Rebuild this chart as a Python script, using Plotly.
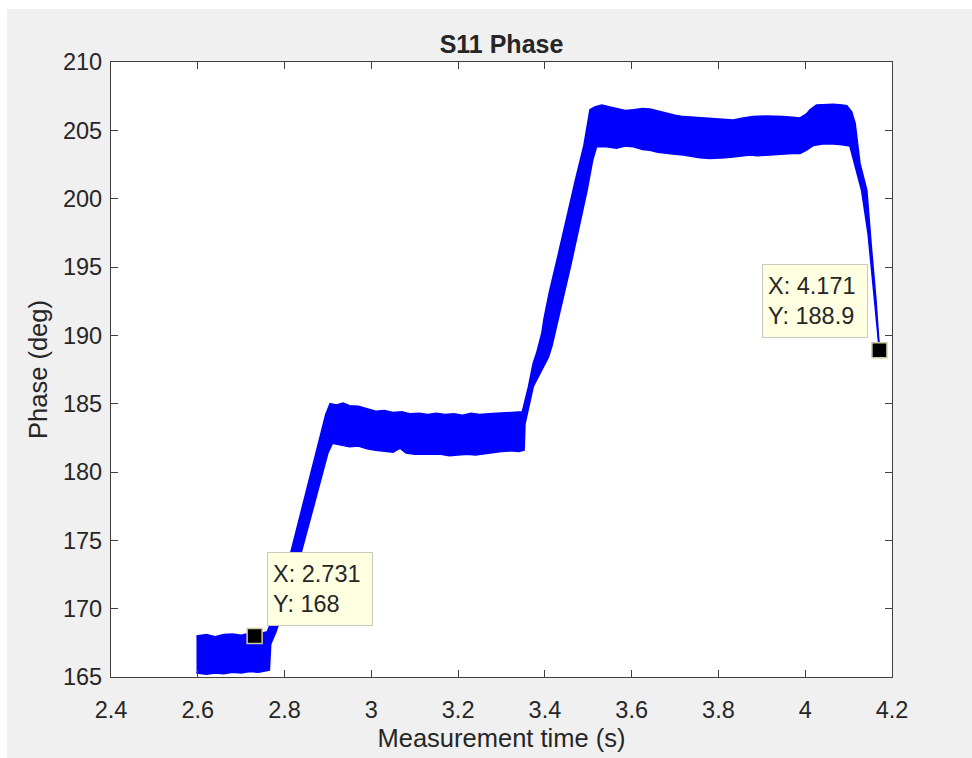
import plotly.graph_objects as go

# ---- measured S11 phase: upper and lower edges of the noisy trace ----
upper_t = [2.597, 2.62, 2.64, 2.66, 2.68, 2.70, 2.72, 2.74, 2.76,
           2.78, 2.80, 2.82, 2.84, 2.86, 2.88, 2.895, 2.905,
           2.92, 2.935, 2.95, 2.97, 2.99, 3.01, 3.03, 3.05, 3.07, 3.09, 3.11,
           3.13, 3.15, 3.17, 3.19, 3.21, 3.23, 3.25, 3.27, 3.29, 3.31, 3.33, 3.348,
           3.362, 3.373, 3.381, 3.393, 3.398, 3.41, 3.43, 3.45, 3.47, 3.49, 3.504,
           3.515, 3.531, 3.55, 3.565, 3.585, 3.604, 3.625, 3.642, 3.66, 3.681,
           3.70, 3.719, 3.74, 3.757, 3.78, 3.796, 3.815, 3.834, 3.857, 3.88,
           3.911, 3.93, 3.949, 3.97, 3.988, 4.003, 4.011, 4.026, 4.045, 4.065,
           4.085, 4.096, 4.107, 4.115, 4.126, 4.142, 4.152, 4.163, 4.171]
upper_y = [168.0, 168.1, 167.95, 168.1, 168.15, 168.05, 168.2, 168.15, 168.3,
           169.8, 172.3, 174.8, 177.2, 179.7, 182.2, 184.2, 185.0,
           184.9, 185.05, 184.85, 184.8, 184.6, 184.45, 184.5, 184.35, 184.4, 184.25, 184.3,
           184.2, 184.3, 184.2, 184.25, 184.15, 184.3, 184.2, 184.25, 184.3, 184.35, 184.4, 184.4,
           186.2, 187.95, 188.7, 190.15, 191.2, 193.1, 195.8, 198.6, 201.3, 203.9, 206.5,
           206.7, 206.85, 206.7, 206.6, 206.45, 206.5, 206.6, 206.55, 206.4, 206.25,
           206.1, 206.0, 205.95, 205.9, 205.85, 205.8, 205.8, 205.75, 205.9, 206.0,
           206.05, 206.0, 206.0, 205.95, 205.9, 206.2, 206.5, 206.85, 206.9, 206.9,
           206.85, 206.8, 206.35, 205.5, 202.6, 200.6, 196.6, 192.6, 188.9]

lower_t = [2.597, 2.62, 2.64, 2.66, 2.68, 2.70, 2.72, 2.74, 2.765,
           2.768, 2.78, 2.80, 2.82, 2.84, 2.86, 2.88, 2.90, 2.91,
           2.93, 2.95, 2.97, 2.99, 3.01, 3.03, 3.05, 3.066, 3.08, 3.10, 3.12,
           3.14, 3.16, 3.18, 3.20, 3.22, 3.24, 3.26, 3.28, 3.30, 3.32, 3.34, 3.352,
           3.354, 3.373, 3.389, 3.408, 3.416, 3.423, 3.431, 3.44, 3.46, 3.48,
           3.497, 3.51, 3.519, 3.542, 3.565, 3.585, 3.604, 3.625, 3.642, 3.66,
           3.681, 3.70, 3.719, 3.74, 3.757, 3.78, 3.796, 3.815, 3.834, 3.855,
           3.872, 3.89, 3.911, 3.93, 3.949, 3.97, 3.988, 4.003, 4.019, 4.04,
           4.065, 4.085, 4.103, 4.117, 4.130, 4.145, 4.158, 4.166, 4.171]
lower_y = [165.3, 165.2, 165.3, 165.25, 165.35, 165.3, 165.4, 165.35, 165.5,
           167.4, 168.3, 170.2, 172.2, 174.3, 176.6, 179.0, 181.4, 182.1,
           182.0, 181.85, 181.9, 181.7, 181.6, 181.5, 181.45, 181.75, 181.4, 181.3, 181.3,
           181.25, 181.3, 181.2, 181.25, 181.3, 181.25, 181.35, 181.45, 181.5, 181.55, 181.5, 181.6,
           183.5, 186.24, 187.2, 188.4, 189.2, 190.15, 191.1, 192.3, 195.2, 198.1,
           200.6, 202.8, 203.8, 203.8, 203.7, 203.85, 203.8, 203.6, 203.55, 203.4,
           203.3, 203.25, 203.2, 203.1, 203.0, 202.95, 202.95, 203.0, 203.05, 203.15,
           203.2, 203.15, 203.2, 203.25, 203.25, 203.3, 203.3, 203.55, 203.9, 204.0,
           204.0, 203.95, 203.85, 202.2, 200.6, 197.4, 193.0, 190.3, 188.9]

# ---- data tips ----
tip_x = [2.731, 4.171]
tip_y = [168, 188.9]

# ---- axes ----
x_ticks = [2.4, 2.6, 2.8, 3.0, 3.2, 3.4, 3.6, 3.8, 4.0, 4.2]
y_ticks = [165, 170, 175, 180, 185, 190, 195, 200, 205, 210]

BLUE = "#0000ff"
INK = "#262626"
FONT = "Liberation Sans, Arial, Helvetica, sans-serif"

W, H = 972, 758
ML, MR, MT, MB = 111, 80, 62, 81
PW, PH = W - ML - MR, H - MT - MB

fig = go.Figure()
fig.add_trace(go.Scatter(x=lower_t, y=lower_y, mode="lines",
                         line=dict(color=BLUE, width=1.6),
                         hoverinfo="skip", showlegend=False))
fig.add_trace(go.Scatter(x=upper_t, y=upper_y, mode="lines",
                         line=dict(color=BLUE, width=1.6),
                         fill="tonexty", fillcolor=BLUE,
                         hoverinfo="skip", showlegend=False))
fig.add_trace(go.Scatter(x=tip_x, y=tip_y, mode="markers",
                         marker=dict(symbol="square", size=15, color="black",
                                     line=dict(color="#cfc9a0", width=1.5)),
                         hoverinfo="skip", showlegend=False))

# datatip boxes
tip_layout = [dict(xanchor="left", xshift=12, yshift=10),
              dict(xanchor="right", xshift=-11, yshift=12)]
for tx, ty, lay in zip(tip_x, tip_y, tip_layout):
    fig.add_annotation(x=tx, y=ty, xref="x", yref="y", showarrow=False,
                       text=f"X: {tx:g}<br>Y: {ty:g}", align="left",
                       yanchor="bottom", width=94, height=62,
                       bgcolor="#ffffe1", bordercolor="#c9c9c0", borderwidth=1,
                       borderpad=5, font=dict(family=FONT, size=23.5, color=INK),
                       **lay)

# thin white frame along the top and left edges of the figure
def px_x(p):
    return (p - ML) / PW

def px_y(p):
    return (H - MB - p) / PH

fig.add_shape(type="rect", xref="paper", yref="paper",
              x0=px_x(0), x1=px_x(7), y0=px_y(H), y1=px_y(0),
              fillcolor="white", line_width=0, layer="below")
fig.add_shape(type="rect", xref="paper", yref="paper",
              x0=px_x(0), x1=px_x(W), y0=px_y(9), y1=px_y(0),
              fillcolor="white", line_width=0, layer="below")

axis_common = dict(showgrid=False, zeroline=False, showline=True, mirror="ticks",
                   linecolor="#404040", linewidth=1.3, ticks="inside", ticklen=7,
                   tickwidth=1.3, tickcolor="#404040",
                   tickfont=dict(family=FONT, size=23.5, color=INK))

fig.update_layout(
    width=W, height=H,
    margin=dict(l=ML, r=MR, t=MT, b=MB, pad=0),
    paper_bgcolor="#f0f0f0", plot_bgcolor="white",
    font=dict(family=FONT, color=INK),
    title=dict(text="<b>S11 Phase</b>", x=(ML + PW / 2) / W, xanchor="center",
               y=1 - 44 / H, yanchor="middle",
               font=dict(family=FONT, size=25, color=INK)),
    xaxis=dict(range=[2.4, 4.2], tickvals=x_ticks,
               ticktext=[f"{v:g}" for v in x_ticks], ticklabelstandoff=12,
               title=dict(text="Measurement time (s)", standoff=6,
                          font=dict(family=FONT, size=25.5, color=INK)),
               **axis_common),
    yaxis=dict(range=[165, 210], tickvals=y_ticks,
               ticktext=[f"{v:g}" for v in y_ticks], ticklabelstandoff=3,
               title=dict(text="Phase (deg)", standoff=8,
                          font=dict(family=FONT, size=25.5, color=INK)),
               **axis_common),
)

fig.write_html("out.html")
